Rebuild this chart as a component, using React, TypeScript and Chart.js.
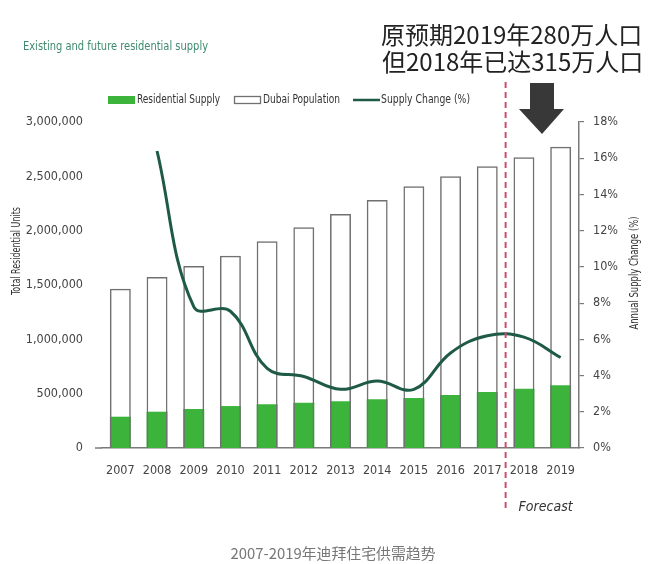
import React, { useEffect, useRef } from "react";
import { Chart, registerables } from "chart.js";

Chart.register(...registerables);

// ---------- data ----------
const years = ["2007", "2008", "2009", "2010", "2011", "2012", "2013", "2014", "2015", "2016", "2017", "2018", "2019"];
const residentialSupply = [288000, 334000, 359000, 386000, 402000, 417000, 430000, 448000, 460000, 488000, 515000, 546000, 577000];
const dubaiPopulation = [1466000, 1574000, 1675000, 1770000, 1902000, 2031000, 2153000, 2282000, 2408000, 2500000, 2592000, 2675000, 2773000];
const supplyChange: (number | null)[] = [null, 16.4, 7.8, 7.55, 4.4, 3.95, 3.24, 3.7, 3.24, 5.25, 6.2, 6.12, 5.0];

const leftAxisMax = 3000000;
const leftAxisStep = 500000;
const rightAxisMax = 18;
const rightAxisStep = 2;

const chartTitle = "Existing and future residential supply";
const legendLabels = ["Residential Supply", "Dubai Population", "Supply Change (%)"];
const leftAxisTitle = "Total Residential Units";
const rightAxisTitle = "Annual Supply Change (%)";
const annotationLines = ["原预期2019年280万人口", "但2018年已达315万人口"];
const forecastLabel = "Forecast";
const forecastStartIndex = 11;
const caption = "2007-2019年迪拜住宅供需趋势";

// ---------- styles ----------
const FN = "'Liberation Sans Narrow', 'DejaVu Sans Condensed', 'Liberation Sans', sans-serif";
const CJK = "'Noto Sans CJK SC', 'Noto Sans', sans-serif";
const GREEN = "#3cb43c";
const BAR_BORDER = "#707070";
const LINE = "#1e5a47";
const AXIS = "#7a7a7a";
const TEXT = "#444444";

// draw text squeezed horizontally to a target width (emulates the condensed face)
function fitText(ctx: CanvasRenderingContext2D, text: string, x: number, y: number, width: number, rotate = 0) {
  const w = ctx.measureText(text).width;
  const sx = Math.min(1, width / w);
  ctx.save();
  ctx.translate(x, y);
  if (rotate) ctx.rotate(rotate);
  ctx.scale(sx, 1);
  ctx.fillText(text, 0, 0);
  ctx.restore();
}

const overlayPlugin = {
  id: "overlay",
  afterDraw(chart: any) {
    const ctx: CanvasRenderingContext2D = chart.ctx;
    const xs = chart.scales.x;
    const ys = chart.scales.y;
    const area = chart.chartArea;
    ctx.save();
    ctx.textBaseline = "middle";

    // chart title
    ctx.font = `12px ${FN}`;
    ctx.fillStyle = "#3f8a6d";
    ctx.textAlign = "left";
    fitText(ctx, chartTitle, 23, 47, 185);

    // legend
    const ds = chart.data.datasets;
    const ly = 100;
    ctx.font = `12px ${FN}`;
    ctx.fillStyle = ds[0].backgroundColor;
    ctx.fillRect(108, ly - 4, 27, 8);
    ctx.fillStyle = "#333";
    fitText(ctx, legendLabels[0], 137, ly, 83);
    ctx.strokeStyle = ds[1].borderColor;
    ctx.lineWidth = 1.3;
    ctx.strokeRect(234.5, ly - 3.5, 26, 7);
    fitText(ctx, legendLabels[1], 263, ly, 77);
    ctx.strokeStyle = ds[2].borderColor;
    ctx.lineWidth = 2.5;
    ctx.beginPath();
    ctx.moveTo(353, ly);
    ctx.lineTo(380, ly);
    ctx.stroke();
    fitText(ctx, legendLabels[2], 381, ly, 89);

    // axis titles
    ctx.fillStyle = "#333";
    ctx.font = `12px ${FN}`;
    ctx.textAlign = "center";
    fitText(ctx, leftAxisTitle, 17, 251, 88, -Math.PI / 2);
    fitText(ctx, rightAxisTitle, 635, 273, 113, -Math.PI / 2);

    // small extension of baseline to the left
    ctx.strokeStyle = AXIS;
    ctx.lineWidth = 1.5;
    ctx.beginPath();
    ctx.moveTo(area.left - 7, ys.getPixelForValue(0));
    ctx.lineTo(area.left, ys.getPixelForValue(0));
    ctx.stroke();

    // forecast dashed line
    const fx = (xs.getPixelForValue(forecastStartIndex - 1) + xs.getPixelForValue(forecastStartIndex)) / 2;
    ctx.strokeStyle = "#c9506b";
    ctx.lineWidth = 2;
    ctx.setLineDash([6, 4]);
    ctx.beginPath();
    ctx.moveTo(fx, 82);
    ctx.lineTo(fx, 512);
    ctx.stroke();
    ctx.setLineDash([]);

    ctx.font = `italic 14px ${FN}`;
    ctx.fillStyle = "#333";
    ctx.textAlign = "left";
    fitText(ctx, forecastLabel, fx + 13, 507, 55);

    // annotation text
    ctx.font = `24px ${CJK}`;
    ctx.fillStyle = "#222";
    ctx.textAlign = "left";
    fitText(ctx, annotationLines[0], 381, 35, 263);
    fitText(ctx, annotationLines[1], 382, 62, 262);

    // arrow
    ctx.fillStyle = "#383838";
    ctx.beginPath();
    ctx.moveTo(530, 83);
    ctx.lineTo(554, 83);
    ctx.lineTo(554, 109);
    ctx.lineTo(564, 109);
    ctx.lineTo(542, 134);
    ctx.lineTo(519, 109);
    ctx.lineTo(530, 109);
    ctx.closePath();
    ctx.fill();

    // caption
    ctx.font = `15px ${CJK}`;
    ctx.fillStyle = "#777";
    ctx.textAlign = "center";
    fitText(ctx, caption, 333, 553, 205);

    ctx.restore();
  },
};

export default function App() {
  const ref = useRef<HTMLCanvasElement | null>(null);

  useEffect(() => {
    if (!ref.current) return;
    const chart = new Chart(ref.current, {
      type: "bar",
      data: {
        labels: years,
        datasets: [
          {
            type: "bar",
            label: legendLabels[0],
            data: residentialSupply,
            backgroundColor: GREEN,
            borderWidth: 0,
            yAxisID: "y",
            order: 2,
            barPercentage: 0.57,
            categoryPercentage: 1,
          },
          {
            type: "bar",
            label: legendLabels[1],
            data: dubaiPopulation,
            backgroundColor: "rgba(255,255,255,0)",
            borderColor: BAR_BORDER,
            borderWidth: 1.5,
            borderSkipped: "bottom",
            yAxisID: "y",
            order: 1,
            barPercentage: 0.57,
            categoryPercentage: 1,
          },
          {
            type: "line",
            label: legendLabels[2],
            data: supplyChange as any,
            borderColor: LINE,
            backgroundColor: LINE,
            borderWidth: 3,
            pointRadius: 0,
            tension: 0.4,
            yAxisID: "y1",
            order: 0,
          } as any,
        ],
      },
      options: {
        responsive: false,
        animation: false,
        devicePixelRatio: 1,
        layout: { padding: { top: 122, bottom: 86, left: 0, right: 0 } },
        plugins: {
          legend: { display: false },
          tooltip: { enabled: false },
          title: { display: false },
        },
        scales: {
          x: {
            stacked: true,
            grid: { display: false, drawTicks: false },
            border: { display: true, color: AXIS, width: 1.5 },
            ticks: { color: TEXT, font: { family: FN, size: 12.5 }, padding: 15, maxRotation: 0 },
            afterFit: (s: any) => { s.height = 30; },
          },
          y: {
            position: "left",
            min: 0,
            max: leftAxisMax,
            stacked: false,
            grid: { display: false, drawTicks: false },
            border: { display: false },
            ticks: {
              stepSize: leftAxisStep,
              color: TEXT,
              font: { family: FN, size: 12.5 },
              padding: 19,
              callback: (v: any) => Number(v).toLocaleString("en-US"),
            },
            afterFit: (s: any) => { s.width = 102; },
          },
          y1: {
            position: "right",
            min: 0,
            max: rightAxisMax,
            grid: { display: true, drawOnChartArea: false, drawTicks: true, tickLength: 5, color: AXIS, lineWidth: 1.2 },
            border: { display: true, color: AXIS, width: 1.5 },
            ticks: {
              stepSize: rightAxisStep,
              color: TEXT,
              font: { family: FN, size: 12.5 },
              padding: 9,
              callback: (v: any) => `${v}%`,
            },
            afterFit: (s: any) => { s.width = 91; },
          },
        },
      },
      plugins: [overlayPlugin],
    } as any);
    return () => chart.destroy();
  }, []);

  return (
    <div style={{ position: "absolute", left: 0, top: 0, width: 670, height: 564, background: "#fff" }}>
      <canvas ref={ref} width={670} height={564} style={{ width: 670, height: 564, display: "block" }} />
    </div>
  );
}
